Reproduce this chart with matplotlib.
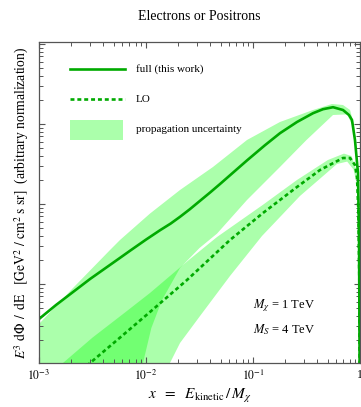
import numpy as np
import matplotlib
matplotlib.use("Agg")
import matplotlib.pyplot as plt
from matplotlib.patches import Rectangle
from matplotlib.lines import Line2D
from matplotlib.ticker import LogLocator, NullFormatter, FixedLocator, FixedFormatter

plt.rcParams['font.family'] = 'serif'
plt.rcParams['font.serif'] = ['Liberation Serif', 'DejaVu Serif']
plt.rcParams['mathtext.fontset'] = 'stix'

# ---- data (log10 x, log10 y) ----
full_lx = [-3.0, -2.841, -2.682, -2.523, -2.364, -2.25, -2.150, -2.0, -1.869, -1.77, -1.682,
           -1.59, -1.495, -1.4, -1.308, -1.18, -1.056, -0.888, -0.748, -0.589, -0.439,
           -0.346, -0.252, -0.159, -0.103, -0.075, -0.047, -0.019, -0.009, -0.002]
full_ly = [0.5625, 0.7375, 0.90, 1.0625, 1.2125, 1.32, 1.415, 1.555, 1.672, 1.755, 1.84,
           1.935, 2.04, 2.145, 2.25, 2.40, 2.545, 2.735, 2.885, 3.025, 3.135,
           3.185, 3.21, 3.175, 3.1125, 3.05, 2.80, 2.39, 1.60, -0.5]

lo_lx = [-2.6, -2.523, -2.243, -1.963, -1.617, -1.215, -0.907, -0.589, -0.374, -0.252,
         -0.159, -0.093, -0.047, -0.028, -0.015, -0.006, -0.002]
lo_ly = [-0.08, 0.0125, 0.33, 0.65, 1.05, 1.55, 1.8875, 2.2125, 2.425, 2.51,
         2.575, 2.575, 2.4875, 2.3375, 1.9, 1.0, -0.5]

full_up_lx = [-3.0, -2.682, -2.336, -2.243, -1.963, -1.682, -1.374, -1.056, -0.748, -0.439,
              -0.262, -0.159, -0.093, -0.056, -0.028, -0.009, -0.002]
full_up_ly = [0.50, 0.95, 1.425, 1.55, 1.88, 2.175, 2.4625, 2.80, 3.025, 3.175,
              3.25, 3.2375, 3.175, 2.9875, 2.55, 1.675, -0.5]
full_lo_lx = [-3.0, -2.08, -2.028, -1.95, -1.85, -1.682, -1.5, -1.336, -1.056, -0.748,
              -0.5, -0.252, -0.12, -0.06, -0.03, -0.01, -0.002]
full_lo_ly = [-1.5, -0.5, 0.0125, 0.45, 0.8, 1.2, 1.45, 1.63, 2.05, 2.4625,
              2.8, 3.1125, 3.12, 2.95, 2.5, 1.5, -0.5]

lo_up_lx = [-2.9, -2.776, -2.5, -2.2, -1.963, -1.6, -1.336, -0.907, -0.589, -0.3,
            -0.15, -0.08, -0.04, -0.02, -0.008, -0.002]
lo_up_ly = [-0.5, 0.0125, 0.33, 0.64, 0.8875, 1.3, 1.5875, 1.99, 2.30, 2.55,
            2.63, 2.60, 2.45, 2.10, 1.30, -0.5]
lo_lo_lx = [-1.85, -1.776, -1.682, -1.495, -1.215, -0.916, -0.561, -0.215, -0.12, -0.06,
            -0.03, -0.012, -0.002]
lo_lo_ly = [-0.5, 0.0125, 0.2625, 0.60, 1.10, 1.60, 2.10, 2.50, 2.53, 2.43,
            2.25, 1.60, -0.5]

xtick_vals = [1e-3, 1e-2, 1e-1, 1.0]
xtick_labels = [r'$10^{-3}$', r'$10^{-2}$', r'$10^{-1}$', '1']

GREEN = '#00aa00'
BAND = (0.0, 1.0, 0.0, 0.33)

def p(a):
    return 10.0 ** np.asarray(a)

fig = plt.figure(figsize=(3.61, 4.07), dpi=100)
ax = fig.add_axes([39/361, 1-363/407, 321/361, 321/407])

# bands
ax.fill(np.concatenate([p(full_up_lx), p(full_lo_lx)[::-1]]),
        np.concatenate([p(full_up_ly), p(full_lo_ly)[::-1]]),
        color=BAND, lw=0)
ax.fill(np.concatenate([p(lo_up_lx), p(lo_lo_lx)[::-1]]),
        np.concatenate([p(lo_up_ly), p(lo_lo_ly)[::-1]]),
        color=BAND, lw=0)

ax.plot(p(full_lx), p(full_ly), color=GREEN, lw=1.9, solid_capstyle='butt',
        solid_joinstyle='round')
ax.plot(p(lo_lx), p(lo_ly), color=GREEN, lw=1.9, linestyle=(0, (1.5, 1.1)),
        dash_capstyle='butt')

ax.set_xscale('log')
ax.set_yscale('log')
ax.set_xlim(1e-3, 1.0)
ax.set_ylim(10**0.0125, 10**4.025)

ax.xaxis.set_major_locator(FixedLocator(xtick_vals))
ax.xaxis.set_major_formatter(FixedFormatter(xtick_labels))
ax.xaxis.set_minor_locator(LogLocator(base=10, subs=np.arange(2, 10)))
ax.xaxis.set_minor_formatter(NullFormatter())
ax.yaxis.set_major_locator(LogLocator(base=10, numticks=10))
ax.yaxis.set_minor_locator(LogLocator(base=10, subs=np.arange(2, 10), numticks=20))
ax.yaxis.set_major_formatter(NullFormatter())
ax.yaxis.set_minor_formatter(NullFormatter())

for s in ax.spines.values():
    s.set_color('#555555')
    s.set_linewidth(0.9)
ax.tick_params(which='both', direction='in', top=True, right=True, color='#555555',
               labelsize=8.5, pad=4)
ax.tick_params(which='major', length=4.5, width=0.8)
ax.tick_params(which='minor', length=3.0, width=0.7)

ax.set_title('Electrons or Positrons', fontsize=10, pad=16)
ax.set_xlabel(r'$x\ \ =\ \ E_{\mathrm{kinetic}}\,/\,M_{\chi}$', fontsize=11, labelpad=3)
ax.set_ylabel(r'$E^{3}\ \mathrm{d}\Phi\ \,/\ \,\mathrm{dE}\ \ \ \left[\mathrm{GeV}^{2}\ /\ \mathrm{cm}^{2}\ \mathrm{s\ sr}\right]$'
              r'  (arbitrary normalization)', fontsize=9.8, labelpad=2)

# legend drawn in axes coordinates
T = ax.transAxes
ax.add_line(Line2D([0.0966, 0.268], [0.916, 0.916], transform=T, color=GREEN, lw=1.9))
ax.text(0.302, 0.916, 'full (this work)', transform=T, fontsize=8, va='center')
ax.add_line(Line2D([0.0966, 0.268], [0.822, 0.822], transform=T, color=GREEN, lw=1.9,
                   linestyle=(0, (1.5, 1.1)), dash_capstyle='butt'))
ax.text(0.302, 0.822, 'LO', transform=T, fontsize=8, va='center')
ax.add_patch(Rectangle((0.0966, 0.695), 0.165, 0.062, transform=T, color=BAND, lw=0))
ax.text(0.302, 0.726, 'propagation uncertainty', transform=T, fontsize=8, va='center')

ax.text(0.667, 0.178, r'$M_{\chi}$ = 1 TeV', transform=T, fontsize=9, va='center')
ax.text(0.667, 0.103, r'$M_{S}$ = 4 TeV', transform=T, fontsize=9, va='center')

fig.savefig('out.png', dpi=100)
